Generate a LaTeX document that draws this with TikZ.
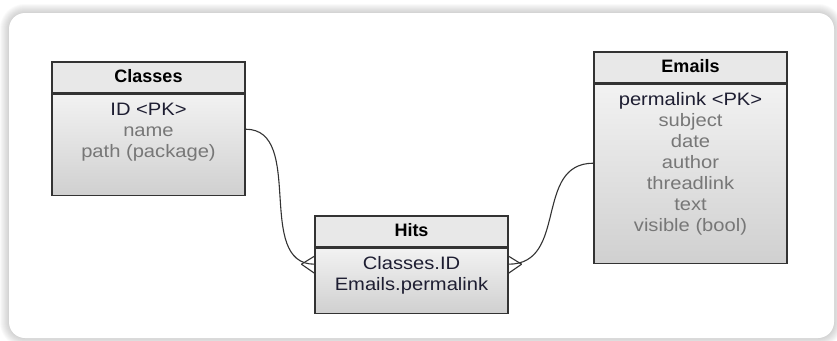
\documentclass[tikz,border=0pt]{standalone}
\usepackage{fontspec}
\setmainfont{Liberation Sans}
\newfontfamily\fieldfont[FakeStretch=1.12]{Liberation Sans}
\usetikzlibrary{positioning}

\definecolor{frame}{HTML}{333333}
\definecolor{keytext}{HTML}{1E1E32}
\definecolor{attrtext}{HTML}{777777}
\definecolor{headfill}{HTML}{E8E8E8}
\definecolor{bodytop}{HTML}{F2F2F2}
\definecolor{bodybot}{HTML}{D0D0D0}

\tikzset{
  tablehead/.style={draw=frame, line width=1.2pt, fill=headfill,
    minimum width=193pt, minimum height=31pt, inner sep=0pt,
    font=\bfseries\fontsize{18}{21}\selectfont, text height=13pt, text depth=4pt},
  tablebody/.style={draw=frame, line width=1.2pt, top color=bodytop,
    bottom color=bodybot, minimum width=193pt, inner sep=0pt, anchor=north},
  fields/.style={anchor=north, inner sep=0pt, align=center, text=attrtext,
    font=\fieldfont\fontsize{18}{21}\selectfont},
  link/.style={draw=frame, line width=1.1pt},
}

\begin{document}
\begin{tikzpicture}[x=1pt, y=-1pt]
      \useasboundingbox (0,0) rectangle (837,340);

      % panel with a soft glow round it
      \foreach \w in {2,4,...,18}
        \draw[black!60, opacity=0.035, line width=\w pt, rounded corners=16pt] (9,13) rectangle (834,338);
      \fill[white, rounded corners=16pt] (9,13) rectangle (834,338);

      % tables
      \node[tablehead] (classes) at (148.5,77.5) {Classes};
      \node[tablebody, minimum height=101pt] (classes-body) at (classes.south) {};
      \node[fields] (classes-fields) at ([yshift=-9pt]classes-body.north)
        {\textcolor{keytext}{ID <PK>}\\ name\\ path (package)};

      \node[tablehead] (emails) at (690.5,67.5) {Emails};
      \node[tablebody, minimum height=179pt] (emails-body) at (emails.south) {};
      \node[fields] (emails-fields) at ([yshift=-9pt]emails-body.north)
        {\textcolor{keytext}{permalink <PK>}\\ subject\\ date\\ author\\ threadlink\\ text\\ visible (bool)};

      \node[tablehead] (hits) at (411.5,231.5) {Hits};
      \node[tablebody, minimum height=65pt] (hits-body) at (hits.south) {};
      \node[fields, text=keytext] (hits-fields) at ([yshift=-9pt]hits-body.north)
        {Classes.ID\\ Emails.permalink};

      % relations
      \coordinate (classes-out) at ([yshift=15.5pt]classes-body.east);
      \coordinate (emails-out) at ([yshift=10.5pt]emails-body.west);
      \coordinate (hits-in) at ([yshift=16.5pt]hits-body.west);
      \coordinate (hits-out) at ([yshift=16.5pt]hits-body.east);
      \draw[link] (classes-out) .. controls +(60,0) and +(-60,0) .. (hits-in);
      \draw[link] (emails-out) .. controls +(-60,0) and +(60,0) .. (hits-out);

      % crow's feet
      \draw[link] ([xshift=-13pt]hits-in) -- ([yshift=8pt]hits-in);
      \draw[link] ([xshift=-13pt]hits-in) -- ([yshift=-9pt]hits-in);
      \draw[link] ([xshift=13pt]hits-out) -- ([yshift=8pt]hits-out);
      \draw[link] ([xshift=13pt]hits-out) -- ([yshift=-9pt]hits-out);
    \end{tikzpicture}
\end{document}
